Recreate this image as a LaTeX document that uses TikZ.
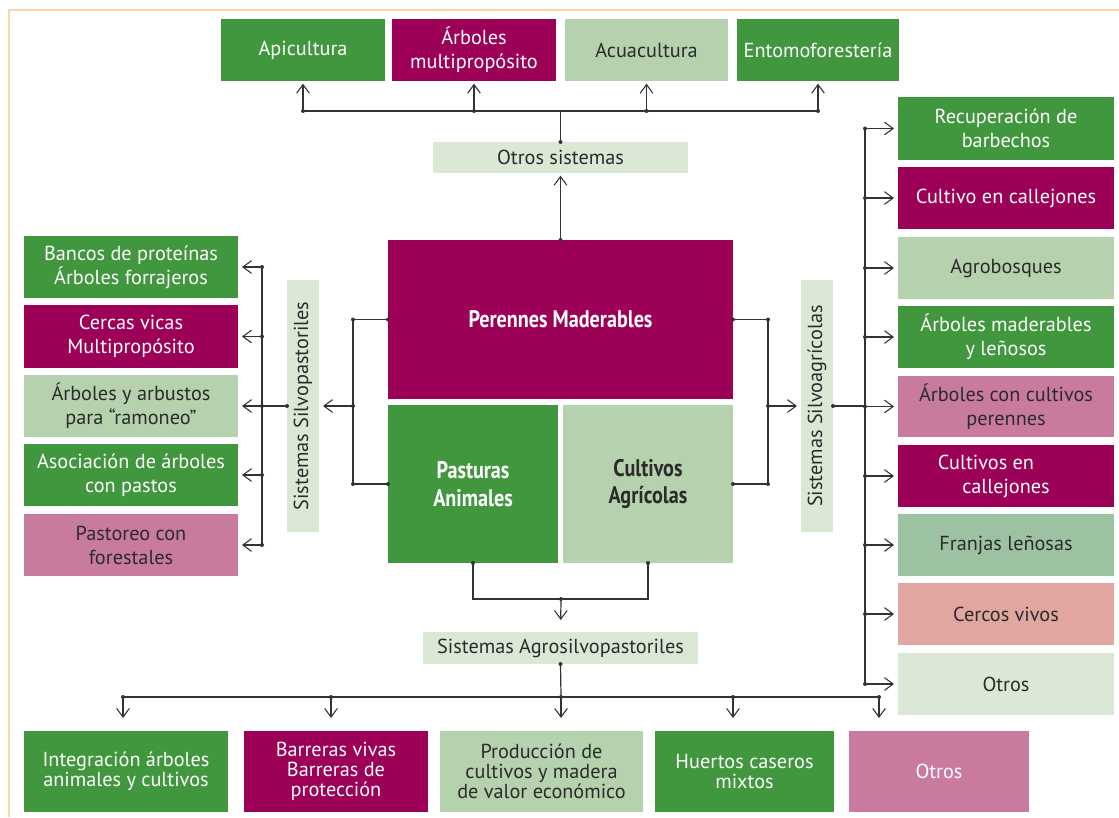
\documentclass[tikz,border=0pt]{standalone}
\usepackage{fontspec}
\setmainfont{PT Sans}
\newfontfamily\condbold[FakeStretch=0.84]{PT Sans}
\usetikzlibrary{arrows.meta}
\definecolor{dkgreen}{HTML}{41973D}
\definecolor{magen}{HTML}{9C0057}
\definecolor{ltgreen}{HTML}{B5D1AD}
\definecolor{pinkc}{HTML}{C97B9F}
\definecolor{palec}{HTML}{DCE8D6}
\definecolor{midgreen}{HTML}{9CC2A1}
\definecolor{salmon}{HTML}{E2A6A0}
\definecolor{lncol}{HTML}{333333}
\definecolor{txtc}{HTML}{2B2B2B}
\definecolor{framec}{HTML}{FCD6AA}
\tikzset{
  box/.style={draw=none, inner sep=0pt, outer sep=0pt, align=center,
    font=\fontsize{15.2}{18}\selectfont},
  tight/.style={font=\fontsize{15.2}{14.8}\selectfont},
  big/.style={font=\condbold\bfseries\fontsize{18}{20.5}\selectfont},
  gw/.style={box, fill=dkgreen, text=white},
  mw/.style={box, fill=magen, text=white},
  lk/.style={box, fill=ltgreen, text=txtc},
  pk/.style={box, fill=pinkc, text=txtc},
  pw/.style={box, fill=pinkc, text=white},
  ak/.style={box, fill=palec, text=txtc},
  fk/.style={box, fill=midgreen, text=txtc},
  sk/.style={box, fill=salmon, text=txtc},
  conn/.style={draw=lncol, line width=0.9pt},
  arr/.style={conn, -{Straight Barb[length=6.5pt,width=9.5pt,line width=0.8pt]}},
}
\newcommand\bx[7]{\node[#6,minimum width={(#4-#2)*0.75pt},minimum height={(#5-#3)*0.75pt}] (#1) at ({(#2+#4)/2},{(#3+#5)/2}) {#7};}
\newcommand\dt[1]{\fill[lncol] (#1) circle (1.5pt);}
\begin{document}
\begin{tikzpicture}[x=0.75pt,y=-0.75pt]
\useasboundingbox (0,0) rectangle (1119,817);
\draw[framec, line width=1.5pt] (9,817) -- (9,10) -- (1119,10);
% top boxes
\bx{T1}{221}{19}{385}{81}{gw}{Apicultura}
\bx{T2}{392}{19}{556}{81}{mw}{Árboles\\multipropósito}
\bx{T3}{565}{19}{728}{81}{lk}{Acuacultura}
\bx{T4}{737}{19}{899}{81}{gw}{Entomoforestería}
\bx{OS}{433}{142}{688}{173}{ak}{Otros sistemas}
% center
\bx{PM}{388}{240}{733}{399}{mw,big}{Perennes Maderables}
\bx{PA}{388}{405}{558}{563}{gw,big}{Pasturas\\Animales}
\bx{CA}{563}{405}{733}{563}{lk,big}{Cultivos\\Agrícolas}
% vertical labels
\node[ak, rotate=90, minimum width=252*0.75pt, minimum height=32*0.75pt] (SP) at (303,406) {Sistemas Silvopastoriles};
\node[ak, rotate=90, minimum width=252*0.75pt, minimum height=32*0.75pt] (SA) at (817,406) {Sistemas Silvoagrícolas};
% left boxes
\bx{L1}{24}{236}{238}{298}{gw}{Bancos de proteínas\\Árboles forrajeros}
\bx{L2}{24}{305}{238}{368}{mw}{Cercas vicas\\Multipropósito}
\bx{L3}{24}{375}{238}{437}{lk}{Árboles y arbustos\\para “ramoneo”}
\bx{L4}{24}{444}{238}{506}{gw}{Asociación de árboles\\con pastos}
\bx{L5}{24}{514}{238}{576}{pk}{Pastoreo con\\forestales}
% right boxes
\bx{R1}{898}{97}{1114}{160}{gw}{Recuperación de\\barbechos}
\bx{R2}{898}{167}{1114}{229}{mw}{Cultivo en callejones}
\bx{R3}{898}{237}{1114}{299}{lk}{Agrobosques}
\bx{R4}{898}{306}{1114}{368}{gw}{Árboles maderables\\y leñosos}
\bx{R5}{898}{376}{1114}{437}{pk}{Árboles con cultivos\\perennes}
\bx{R6}{898}{445}{1114}{507}{mw}{Cultivos en\hspace*{30pt}\\callejones}
\bx{R7}{898}{514}{1114}{576}{fk}{Franjas leñosas}
\bx{R8}{898}{583}{1114}{645}{sk}{Cercos vivos}
\bx{R9}{898}{653}{1114}{715}{ak}{Otros}
% agro
\bx{AG}{423}{632}{698}{664}{ak}{Sistemas Agrosilvopastoriles}
% bottom boxes
\bx{B1}{24}{731}{228}{812}{gw,tight}{Integración árboles\\animales y cultivos}
\bx{B2}{244}{731}{428}{812}{mw,tight}{Barreras vivas\\Barreras de\\protección}
\bx{B3}{440}{731}{643}{812}{lk,tight}{Producción de\\cultivos y madera\\de valor económico}
\bx{B4}{655}{731}{834}{812}{gw,tight}{Huertos caseros\\mixtos}
\bx{B5}{849}{731}{1029}{812}{pw}{Otros}
% ---- top connectors
\coordinate (tb) at (561,111);
\draw[conn] (T1.south |- tb) -- (T4.south |- tb);
\foreach \n in {T1,T2,T3,T4}{
  \draw[arr, shorten >=2pt] (\n.south |- tb) -- (\n.south);
  \dt{\n.south |- tb}
}
\draw[conn] (OS.north) -- (OS.north |- tb);
\dt{OS.north}
\draw[arr, shorten >=2pt] (PM.north) -- (OS.south);
\dt{PM.north}
% ---- left connectors
\coordinate (lj) at (353,406);
\draw[conn] (PM.west) -- (PM.west -| lj) -- (PA.west -| lj) -- (PA.west);
\dt{PM.west}\dt{PA.west}\dt{PM.west -| lj}\dt{PA.west -| lj}\dt{lj}
\draw[arr, shorten >=3pt] (lj) -- (SP.south);
\coordinate (lb) at (262,406);
\draw[conn] (SP.north) -- (lb);
\dt{SP.north}
\draw[conn] (L1.east -| lb) -- (L5.east -| lb);
\foreach \n in {L1,L2,L3,L4,L5}{
  \draw[arr, shorten >=3pt] (\n.east -| lb) -- (\n.east);
  \dt{\n.east -| lb}
}
% ---- right connectors
\coordinate (rj) at (768,406);
\draw[conn] (PM.east) -- (PM.east -| rj) -- (CA.east -| rj) -- (CA.east);
\dt{PM.east}\dt{CA.east}\dt{PM.east -| rj}\dt{CA.east -| rj}\dt{rj}
\draw[arr, shorten >=3pt] (rj) -- (SA.north);
\coordinate (rb) at (865,406);
\draw[conn] (SA.south) -- (rb);
\dt{SA.south}
\draw[conn] (R1.west -| rb) -- (R9.west -| rb);
\foreach \n in {R1,R2,R3,R4,R5,R6,R7,R8,R9}{
  \draw[arr, shorten >=3pt] (\n.west -| rb) -- (\n.west);
  \dt{\n.west -| rb}
}
% ---- bottom connectors
\coordinate (bj) at (561,599);
\draw[conn] (PA.south) -- (PA.south |- bj) -- (CA.south |- bj) -- (CA.south);
\dt{PA.south}\dt{CA.south}\dt{bj}
\draw[arr, shorten >=9pt] (bj) -- (AG.north);
\coordinate (bb) at (561,697);
\draw[conn] (AG.south) -- (bb);
\dt{AG.south}
\coordinate (b1) at (123,697);
\coordinate (b2) at (331,697);
\coordinate (b3) at (561,697);
\coordinate (b4) at (733,697);
\coordinate (b5) at (879,697);
\draw[conn] (b1) -- (b5);
\draw[arr, shorten >=9.75pt] (b1) -- (b1 |- B1.north); \dt{b1}
\draw[arr, shorten >=9.75pt] (b2) -- (b2 |- B2.north); \dt{b2}
\draw[arr, shorten >=9.75pt] (b3) -- (b3 |- B3.north); \dt{b3}
\draw[arr, shorten >=9.75pt] (b4) -- (b4 |- B4.north); \dt{b4}
\draw[arr, shorten >=9.75pt] (b5) -- (b5 |- B5.north); \dt{b5}
\end{tikzpicture}
\end{document}
